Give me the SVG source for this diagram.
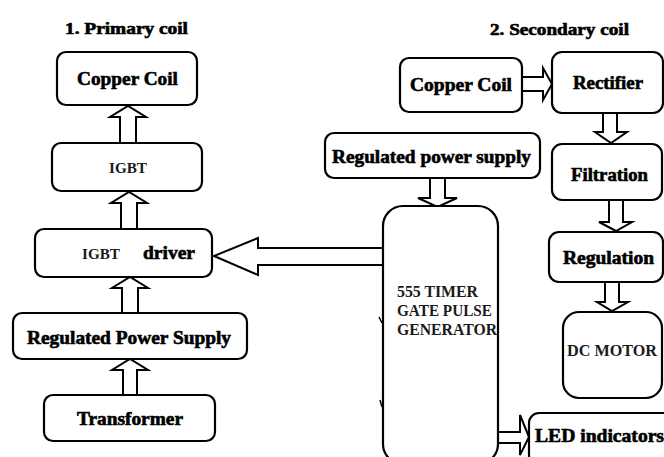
<svg xmlns="http://www.w3.org/2000/svg" width="664" height="457" viewBox="0 0 664 457">
<style>
.box{fill:#fff;stroke:#000;stroke-width:2.2}
.arr{fill:#fff;stroke:#000;stroke-width:2;stroke-linejoin:miter}
.t{font-family:"Liberation Serif","Times New Roman",serif;font-weight:bold;fill:#000;stroke:#000;stroke-width:0.6}
.n{font-family:"Liberation Serif","Times New Roman",serif;font-weight:bold;fill:#1a1a1a}
</style>
<rect width="664" height="457" fill="#fff"/>
<g id="titles">
<text class="t" x="65" y="34" font-size="16" textLength="123" lengthAdjust="spacingAndGlyphs">1. Primary coil</text>
<text class="t" x="490" y="35" font-size="16" textLength="139" lengthAdjust="spacingAndGlyphs">2. Secondary coil</text>
</g>
<g id="connectors">
<path class="arr" d="M120,143 V117 H110 L128,106 L146,117 H136 V143"/>
<path class="arr" d="M121,229 V203 H111 L129,192 L147,203 H137 V229"/>
<path class="arr" d="M122,313 V288 H112 L130,277 L148,288 H138 V313"/>
<path class="arr" d="M123,395 V370 H112 L130,359 L148,370 H137 V395"/>
<path class="arr" d="M383,248 H258 V238 L214,256 L258,275 V265 H383"/>
<path class="arr" d="M430,178 V198 H418 L437.5,207 L457,198 H445 V178"/>
<path class="arr" d="M522,77 H543 V68 L552,84 L543,100 V91 H522"/>
<path class="arr" d="M603,113 V132 H595 L611,143 L627,132 H617 V113"/>
<path class="arr" d="M609,200 V222 H599 L616,231 L632,222 H623 V200"/>
<path class="arr" d="M605,282 V302 H597 L612,311 L628,302 H619 V282"/>
<path class="arr" d="M498,432 H520 V415 L529,437 L520,455 V443 H498"/>
</g>
<g id="copper-coil-1">
<rect class="box" x="57" y="52" width="140" height="53" rx="9"/>
<text class="t" x="77" y="85" font-size="19" textLength="101" lengthAdjust="spacingAndGlyphs">Copper Coil</text>
</g>
<g id="igbt">
<rect class="box" x="52" y="143" width="150" height="48" rx="9"/>
<text class="n" x="109" y="173" font-size="15" textLength="38" lengthAdjust="spacingAndGlyphs">IGBT</text>
</g>
<g id="igbt-driver">
<rect class="box" x="35" y="229" width="177" height="48" rx="9"/>
<text class="n" x="82" y="259" font-size="15" textLength="38" lengthAdjust="spacingAndGlyphs">IGBT</text>
<text class="t" x="143" y="259" font-size="18" textLength="52" lengthAdjust="spacingAndGlyphs">driver</text>
</g>
<g id="regulated-power-supply-1">
<rect class="box" x="13" y="313" width="234" height="46" rx="9"/>
<text class="t" x="27" y="344" font-size="18" textLength="204" lengthAdjust="spacingAndGlyphs">Regulated Power Supply</text>
</g>
<g id="transformer">
<rect class="box" x="44" y="395" width="171" height="46" rx="9"/>
<text class="t" x="77" y="425" font-size="18" textLength="106" lengthAdjust="spacingAndGlyphs">Transformer</text>
</g>
<g id="copper-coil-2">
<rect class="box" x="400" y="58" width="122" height="54" rx="9"/>
<text class="t" x="410" y="91" font-size="19" textLength="102" lengthAdjust="spacingAndGlyphs">Copper Coil</text>
</g>
<g id="rectifier">
<rect class="box" x="552" y="52" width="111" height="61" rx="10"/>
<text class="t" x="573" y="89" font-size="18" textLength="70" lengthAdjust="spacingAndGlyphs">Rectifier</text>
</g>
<g id="regulated-power-supply-2">
<rect class="box" x="325" y="133" width="215" height="45" rx="9"/>
<text class="t" x="332" y="163" font-size="18" textLength="199" lengthAdjust="spacingAndGlyphs">Regulated power supply</text>
</g>
<g id="filtration">
<rect class="box" x="552" y="144" width="110" height="56" rx="10"/>
<text class="t" x="571" y="181" font-size="18" textLength="77" lengthAdjust="spacingAndGlyphs">Filtration</text>
</g>
<g id="regulation">
<rect class="box" x="549" y="232" width="114" height="50" rx="10"/>
<text class="t" x="563" y="264" font-size="18" textLength="91" lengthAdjust="spacingAndGlyphs">Regulation</text>
</g>
<g id="dc-motor">
<rect class="box" x="563" y="312" width="99" height="86" rx="16"/>
<text class="n" x="567" y="356" font-size="16" textLength="90" lengthAdjust="spacingAndGlyphs">DC MOTOR</text>
</g>
<g id="timer">
<rect class="box" x="383" y="206" width="115" height="258" rx="20"/>
<path d="M379,317 L382,323 M380,400 L382,407" stroke="#000" stroke-width="1.5" fill="none"/>
<text class="n" font-size="16"><tspan x="397" y="297" textLength="81" lengthAdjust="spacingAndGlyphs">555 TIMER</tspan><tspan x="397" y="316" textLength="95" lengthAdjust="spacingAndGlyphs">GATE PULSE</tspan><tspan x="397" y="335" textLength="100" lengthAdjust="spacingAndGlyphs">GENERATOR</tspan></text>
</g>
<g id="led-indicators">
<rect class="box" x="529" y="413" width="150" height="60" rx="10"/>
<text class="t" x="535" y="442" font-size="18" textLength="129" lengthAdjust="spacingAndGlyphs">LED indicators</text>
</g>
</svg>
